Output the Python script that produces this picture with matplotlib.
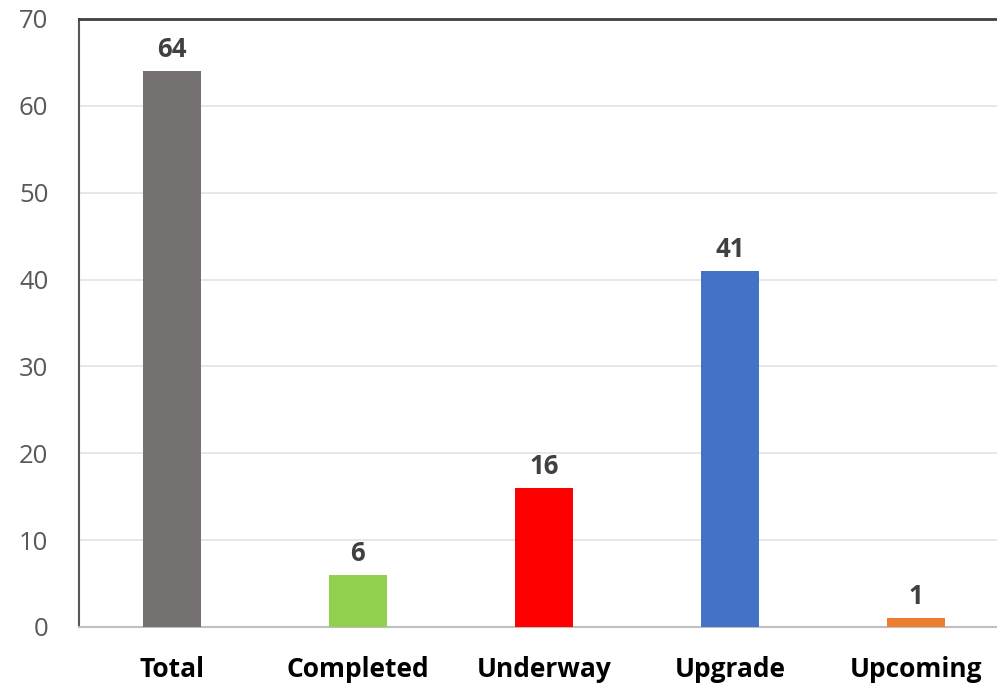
import matplotlib
matplotlib.use("Agg")
import matplotlib.pyplot as plt

categories = ["Total", "Completed", "Underway", "Upgrade", "Upcoming"]
values = [64, 6, 16, 41, 1]
colors = ["#767171", "#92D050", "#FF0000", "#4472C4", "#ED7D31"]
yticks = [0, 10, 20, 30, 40, 50, 60, 70]

plt.rcParams["font.family"] = ["Open Sans", "DejaVu Sans"]

fig = plt.figure(figsize=(9.97, 6.85), dpi=100)
ax = fig.add_axes([0.0792, 0.0847, 0.9328, 0.8876])

x = range(len(categories))
bars = ax.bar(x, values, width=0.31, color=colors, zorder=3)

for b, v in zip(bars, values):
    ax.annotate(str(v), (b.get_x() + b.get_width() / 2, v),
                xytext=(0, 6), textcoords="offset points",
                ha="center", va="bottom", fontsize=18.5, fontweight="bold",
                color="#404040")

ax.set_xlim(-0.5, len(categories) - 0.5)
ax.set_ylim(0, 70)
ax.set_yticks(yticks)
ax.set_xticks(list(x))
ax.set_xticklabels(categories, fontsize=19, fontweight="bold", color="black")
ax.tick_params(axis="y", length=0, pad=22, labelsize=18.5, labelcolor="#595959")
ax.tick_params(axis="x", length=0, pad=21)

ax.grid(axis="y", color="#E3E3E3", linewidth=1.2, zorder=0)
ax.spines["right"].set_visible(False)
ax.spines["top"].set_color("#404040")
ax.spines["top"].set_linewidth(2)
ax.spines["left"].set_color("#595959")
ax.spines["left"].set_linewidth(1.5)
ax.spines["bottom"].set_color("#BFBFBF")
ax.spines["bottom"].set_linewidth(1.5)

fig.savefig("out.png", dpi=100)
